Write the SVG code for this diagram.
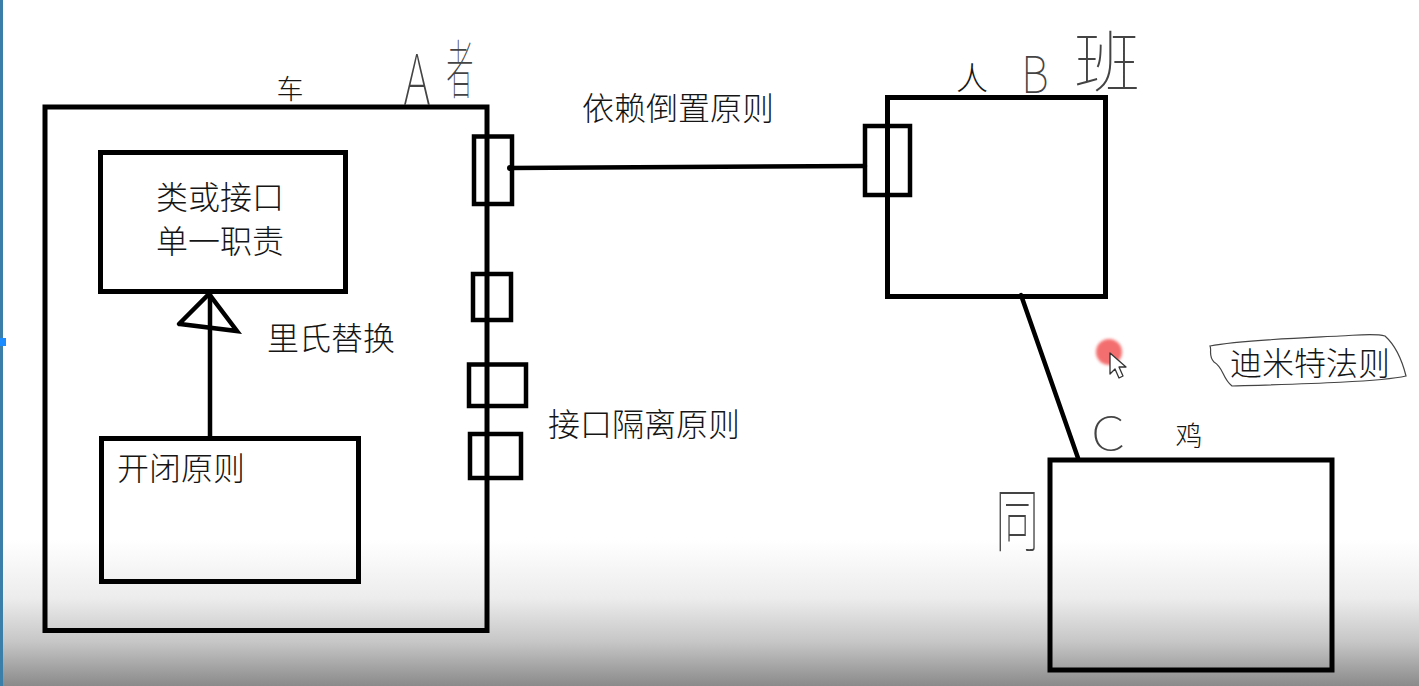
<svg xmlns="http://www.w3.org/2000/svg" width="1419" height="686" viewBox="0 0 1419 686">
<defs>
<style>
.box{fill:none;stroke:#000;stroke-width:5}
.port{fill:none;stroke:#000;stroke-width:4.5}
.wire{fill:none;stroke:#000;stroke-width:4.5;stroke-linecap:round}
.t{font-family:"Noto Sans CJK SC","Noto Sans",sans-serif;font-size:32px;font-weight:300;fill:#151515}
.ts{font-family:"Noto Sans CJK SC","Noto Sans",sans-serif;font-size:27px;font-weight:300;fill:#151515}
.hw{font-family:"Noto Sans CJK SC","Noto Sans",sans-serif;font-weight:100;fill:#444}
</style>
<linearGradient id="bg" gradientUnits="userSpaceOnUse" x1="0" y1="540" x2="0" y2="686">
<stop offset="0" stop-color="#ffffff"/>
<stop offset="0.4" stop-color="#ececec"/>
<stop offset="0.7" stop-color="#c6c6c6"/>
<stop offset="1" stop-color="#8a8a8a"/>
</linearGradient>
<filter id="blur" x="-50%" y="-50%" width="200%" height="200%"><feGaussianBlur stdDeviation="1.5"/></filter>
</defs>
<rect x="0" y="0" width="1419" height="686" fill="url(#bg)"/>
<rect x="0" y="0" width="3" height="686" fill="#3b7fa8"/>
<rect x="0" y="338" width="6" height="8" fill="#1a8cff"/>

<g id="connectors">
<line class="wire" x1="510" y1="168" x2="865" y2="166"/>
<circle cx="510" cy="168" r="3" fill="#000"/>
<line class="wire" x1="1021" y1="295" x2="1078" y2="458"/>
<line class="wire" x1="210" y1="294" x2="210" y2="436"/>
<polyline class="wire" points="179,324 209,294 237,331 180,324"/>
</g>

<g id="car">
<rect class="box" x="45" y="107" width="442" height="523.5"/>
<text class="ts" x="290" y="99" text-anchor="middle">车</text>
<text class="hw" font-size="60" transform="translate(417,105) scale(0.78,1.17)" text-anchor="middle">A</text>
<text class="hw" font-size="44" transform="translate(460,93) scale(0.62,1.45)" text-anchor="middle">者</text>
</g>

<g id="srp">
<rect class="box" x="100.5" y="152.5" width="245" height="139"/>
<text class="t" x="220" y="209" text-anchor="middle">类或接口</text>
<text class="t" x="220" y="253" text-anchor="middle">单一职责</text>
</g>

<g id="lsp-label">
<text class="t" x="267" y="350">里氏替换</text>
</g>

<g id="ocp">
<rect class="box" x="101.5" y="438.5" width="257" height="143"/>
<text class="t" x="117" y="480">开闭原则</text>
</g>

<g id="ports">
<rect class="port" x="474" y="136.5" width="38" height="67.5"/>
<rect class="port" x="473" y="274" width="38" height="46"/>
<rect class="port" x="469" y="364.5" width="57" height="41.5"/>
<rect class="port" x="470" y="434" width="51" height="44"/>
</g>

<g id="dip-label">
<text class="t" x="582" y="120">依赖倒置原则</text>
</g>

<g id="isp-label">
<text class="t" x="548" y="436">接口隔离原则</text>
</g>

<g id="person">
<rect class="box" x="887.5" y="97.5" width="218" height="199"/>
<rect class="port" x="865" y="126" width="45" height="69"/>
<text class="t" x="972" y="90" text-anchor="middle">人</text>
<text class="hw" font-size="48" transform="translate(1035,93) scale(0.9,1.05)" text-anchor="middle">B</text>
<text class="hw" font-size="66" x="1107" y="86" text-anchor="middle">班</text>
</g>

<g id="demeter">
<path d="M1210,346 C1240,340 1300,338 1340,336 C1360,335 1375,333 1385,336 C1395,345 1402,360 1406,376 C1380,382 1300,384 1232,386 C1222,378 1224,368 1214,362 C1208,356 1212,350 1210,346 Z" fill="none" stroke="#444" stroke-width="1.2"/>
<text class="t" x="1230" y="375">迪米特法则</text>
</g>

<g id="chicken">
<rect class="box" x="1050" y="460" width="282" height="210"/>
<text class="ts" x="1189" y="446" text-anchor="middle">鸡</text>
<text class="hw" font-size="46" transform="translate(1108,450) scale(1.2,1)" text-anchor="middle">C</text>
<text class="hw" font-size="46" transform="translate(1017,546) scale(0.95,1.5)" text-anchor="middle">同</text>
</g>

<g id="pointer">
<circle cx="1109" cy="352" r="13" fill="#f25555" opacity="0.85" filter="url(#blur)"/>
<path d="M1110,353 L1110,374 L1115,369 L1119,378 L1123,376 L1119,367 L1126,367 Z" fill="#fff" stroke="#333" stroke-width="1.3" stroke-linejoin="round"/>
</g>
</svg>
